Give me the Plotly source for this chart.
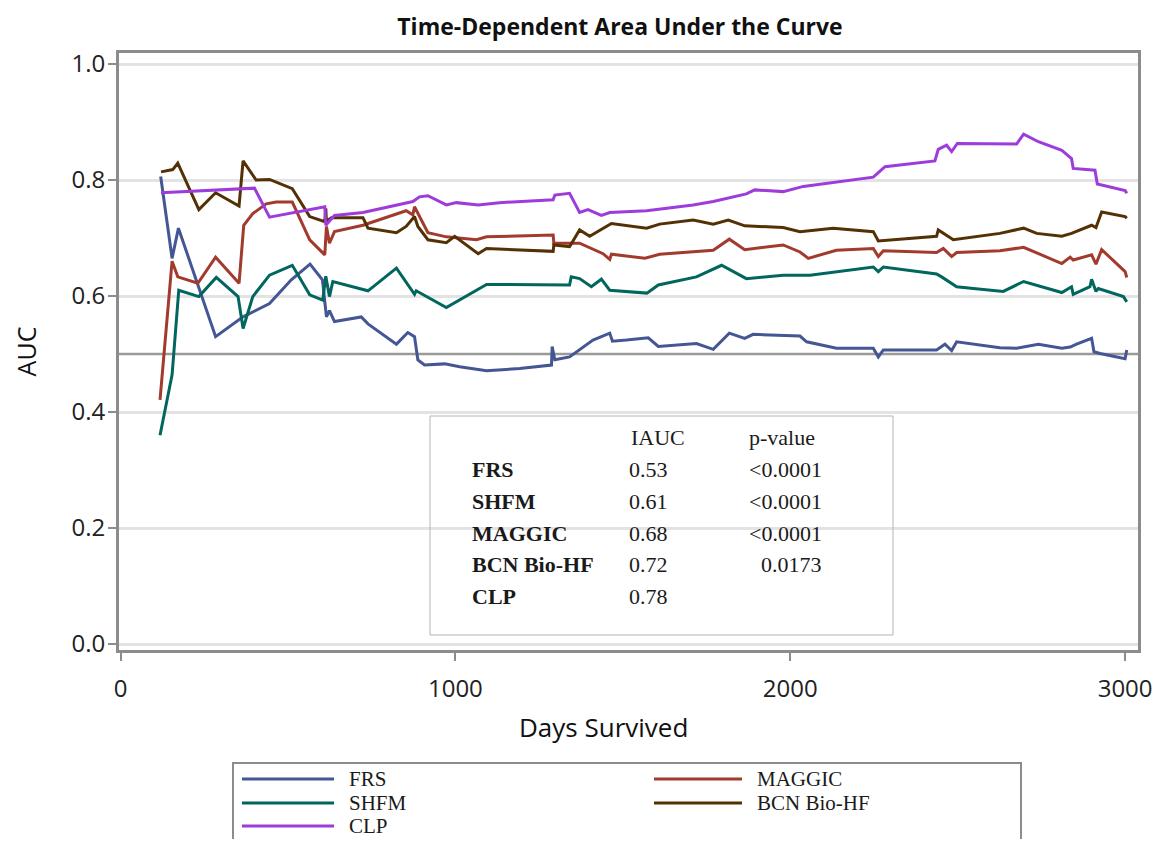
import plotly.graph_objects as go

# ---------------- data ----------------
frs_days = [120, 154, 173, 284, 366, 445, 510, 566, 603, 615, 624, 639, 719, 739, 824, 858, 878, 888,
            908, 968, 1013, 1093, 1192, 1287, 1289, 1297, 1341, 1411, 1461, 1469, 1511, 1576, 1606,
            1720, 1770, 1818, 1864, 1889, 2029, 2049, 2138, 2248, 2263, 2278, 2437, 2462, 2482, 2497,
            2626, 2676, 2741, 2811, 2836, 2855, 2900, 2907, 2925, 3000, 3005]
frs_auc = [0.806, 0.665, 0.717, 0.530, 0.564, 0.587, 0.628, 0.655, 0.628, 0.564, 0.575, 0.556, 0.564,
           0.552, 0.517, 0.537, 0.530, 0.490, 0.481, 0.483, 0.478, 0.471, 0.475, 0.481, 0.513, 0.490,
           0.495, 0.524, 0.536, 0.522, 0.524, 0.528, 0.513, 0.518, 0.508, 0.536, 0.527, 0.534, 0.531,
           0.521, 0.510, 0.510, 0.495, 0.507, 0.507, 0.517, 0.506, 0.521, 0.511, 0.510, 0.517, 0.510,
           0.512, 0.517, 0.527, 0.504, 0.501, 0.492, 0.507]

maggic_days = [118, 154, 171, 231, 284, 354, 368, 395, 435, 465, 513, 565, 610, 615, 624, 639, 724,
               853, 873, 878, 918, 973, 1063, 1093, 1292, 1294, 1371, 1441, 1461, 1466, 1566, 1610,
               1770, 1818, 1864, 1979, 2029, 2054, 2138, 2248, 2263, 2278, 2437, 2457, 2482, 2497,
               2626, 2697, 2811, 2836, 2845, 2900, 2913, 2930, 3000, 3005]
maggic_auc = [0.421, 0.660, 0.633, 0.622, 0.667, 0.622, 0.722, 0.742, 0.759, 0.762, 0.762, 0.697,
              0.671, 0.720, 0.691, 0.711, 0.722, 0.747, 0.740, 0.754, 0.709, 0.702, 0.697, 0.702,
              0.705, 0.691, 0.691, 0.673, 0.663, 0.672, 0.665, 0.672, 0.679, 0.698, 0.680, 0.688,
              0.676, 0.665, 0.679, 0.682, 0.668, 0.678, 0.675, 0.682, 0.668, 0.675, 0.678, 0.684,
              0.656, 0.667, 0.662, 0.671, 0.655, 0.680, 0.642, 0.632]

shfm_days = [118, 154, 174, 234, 286, 351, 366, 395, 445, 513, 565, 604, 613, 624, 634, 739, 824, 878,
             883, 973, 1093, 1292, 1341, 1346, 1371, 1406, 1436, 1461, 1572, 1606, 1720, 1795, 1869,
             1979, 2059, 2248, 2263, 2278, 2437, 2452, 2497, 2547, 2636, 2697, 2811, 2840, 2845,
             2895, 2900, 2913, 2920, 2995, 3005]
shfm_auc = [0.360, 0.464, 0.610, 0.599, 0.632, 0.599, 0.544, 0.599, 0.636, 0.653, 0.602, 0.593, 0.634,
            0.599, 0.625, 0.609, 0.648, 0.603, 0.609, 0.580, 0.620, 0.619, 0.619, 0.633, 0.630, 0.616,
            0.629, 0.610, 0.605, 0.619, 0.633, 0.653, 0.630, 0.636, 0.636, 0.650, 0.642, 0.650, 0.638,
            0.633, 0.616, 0.613, 0.608, 0.625, 0.606, 0.616, 0.603, 0.616, 0.629, 0.608, 0.613, 0.599,
            0.590]

bcn_days = [121, 156, 171, 234, 284, 354, 366, 405, 445, 513, 565, 610, 613, 615, 630, 724, 739, 824,
            853, 878, 888, 918, 973, 998, 1068, 1093, 1292, 1294, 1341, 1371, 1401, 1466, 1571, 1610,
            1710, 1770, 1815, 1864, 1979, 2029, 2128, 2248, 2263, 2437, 2442, 2487, 2626, 2697, 2736,
            2811, 2840, 2900, 2913, 2930, 3000, 3005]
bcn_auc = [0.814, 0.818, 0.829, 0.749, 0.778, 0.755, 0.833, 0.800, 0.801, 0.785, 0.737, 0.728, 0.751,
           0.729, 0.735, 0.735, 0.717, 0.709, 0.720, 0.737, 0.720, 0.697, 0.692, 0.703, 0.673, 0.682,
           0.677, 0.688, 0.685, 0.714, 0.703, 0.725, 0.717, 0.724, 0.731, 0.724, 0.731, 0.721, 0.718,
           0.711, 0.717, 0.711, 0.695, 0.703, 0.714, 0.697, 0.708, 0.717, 0.708, 0.703, 0.708, 0.722,
           0.718, 0.745, 0.737, 0.734]

clp_days = [121, 400, 445, 610, 613, 639, 724, 873, 893, 918, 973, 1003, 1068, 1132, 1292, 1297, 1341,
            1371, 1396, 1436, 1461, 1571, 1710, 1770, 1869, 1894, 1979, 2039, 2248, 2283, 2432, 2442,
            2467, 2482, 2499, 2676, 2697, 2741, 2811, 2840, 2845, 2910, 2917, 3000, 3005]
clp_auc = [0.778, 0.786, 0.736, 0.754, 0.722, 0.739, 0.744, 0.763, 0.771, 0.773, 0.757, 0.761, 0.757,
           0.761, 0.766, 0.774, 0.777, 0.744, 0.749, 0.739, 0.744, 0.747, 0.757, 0.763, 0.776, 0.783,
           0.780, 0.789, 0.805, 0.823, 0.833, 0.853, 0.860, 0.849, 0.863, 0.862, 0.879, 0.866, 0.851,
           0.837, 0.820, 0.817, 0.793, 0.782, 0.777]

reference_auc = 0.5
x_ticks = [0, 1000, 2000, 3000]
y_ticks = [0.0, 0.2, 0.4, 0.6, 0.8, 1.0]

table_models = ["FRS", "SHFM", "MAGGIC", "BCN Bio-HF", "CLP"]
table_iauc = ["0.53", "0.61", "0.68", "0.72", "0.78"]
table_pvalue = ["<0.0001", "<0.0001", "<0.0001", "0.0173", ""]

# ---------------- styling ----------------
colors = {"FRS": "#445694", "MAGGIC": "#A23A2E", "SHFM": "#01665E",
          "BCN Bio-HF": "#543005", "CLP": "#9D3CDB"}
SANS = "Open Sans, DejaVu Sans, sans-serif"
SERIF = "Liberation Serif, DejaVu Serif, serif"

OFF = 8                      # page body margin
FW, FH = 1148, 831           # figure size (page 1164x847 minus body margins)
PL, PR, PT, PB = 119, 1138, 53, 650   # plot area in page pixels


def px(x):
    return (x - PL) / (PR - PL)


def py(y):
    return (PB - y) / (PB - PT)


data_map = {
    "FRS": (frs_days, frs_auc),
    "MAGGIC": (maggic_days, maggic_auc),
    "SHFM": (shfm_days, shfm_auc),
    "BCN Bio-HF": (bcn_days, bcn_auc),
    "CLP": (clp_days, clp_auc),
}

fig = go.Figure()
for name in ["FRS", "MAGGIC", "SHFM", "BCN Bio-HF", "CLP"]:
    d, v = data_map[name]
    fig.add_trace(go.Scatter(x=d, y=v, mode="lines", name=name, showlegend=False,
                             line=dict(color=colors[name], width=3)))

shapes = []
annotations = []

# reference line at AUC 0.5
shapes.append(dict(type="line", xref="x domain", yref="y", x0=0, x1=1,
                   y0=reference_auc, y1=reference_auc,
                   line=dict(color="#9a9a9a", width=2.5), layer="below"))

# inset table box
shapes.append(dict(type="rect", xref="paper", yref="paper",
                   x0=px(430), x1=px(893), y0=py(635), y1=py(416),
                   line=dict(color="#b4b4b4", width=1)))

tfont = dict(family=SERIF, size=22, color="#1a1a1a")
annotations.append(dict(text="IAUC", x=px(629), y=py(437), xref="paper", yref="paper",
                        xanchor="left", yanchor="middle", showarrow=False, font=tfont))
annotations.append(dict(text="p-value", x=px(747), y=py(437), xref="paper", yref="paper",
                        xanchor="left", yanchor="middle", showarrow=False, font=tfont))
row_y = [469, 501, 533, 564, 596]
for i, m in enumerate(table_models):
    annotations.append(dict(text="<b>" + m + "</b>", x=px(470), y=py(row_y[i]), xref="paper",
                            yref="paper", xanchor="left", yanchor="middle", showarrow=False,
                            font=tfont))
    annotations.append(dict(text=table_iauc[i], x=px(627), y=py(row_y[i]), xref="paper",
                            yref="paper", xanchor="left", yanchor="middle", showarrow=False,
                            font=tfont))
    if table_pvalue[i]:
        annotations.append(dict(text=table_pvalue[i], x=px(824), y=py(row_y[i]), xref="paper",
                                yref="paper", xanchor="right", yanchor="middle", showarrow=False,
                                font=tfont))

# x-axis title (placed as in the reference)
annotations.append(dict(text="Days Survived", x=px(603), y=py(727), xref="paper", yref="paper",
                        xanchor="center", yanchor="middle", showarrow=False,
                        font=dict(family=SANS, size=26, color="#111")))

# legend (drawn below the plot)
shapes.append(dict(type="rect", xref="paper", yref="paper",
                   x0=px(233), x1=px(1021), y0=py(880), y1=py(763),
                   line=dict(color="#8c8c8c", width=2)))
legend_layout = [("FRS", 0, 0), ("SHFM", 0, 1), ("CLP", 0, 2),
                 ("MAGGIC", 1, 0), ("BCN Bio-HF", 1, 1)]
col_line = [(242, 334), (654, 742)]
col_text = [347, 755]
leg_rows = [779, 803, 826]
lfont = dict(family=SERIF, size=21, color="#1a1a1a")
for name, c, r in legend_layout:
    yy = py(leg_rows[r])
    shapes.append(dict(type="line", xref="paper", yref="paper",
                       x0=px(col_line[c][0]), x1=px(col_line[c][1]), y0=yy, y1=yy,
                       line=dict(color=colors[name], width=3)))
    annotations.append(dict(text=name, x=px(col_text[c]), y=yy, xref="paper", yref="paper",
                            xanchor="left", yanchor="middle", showarrow=False, font=lfont))

fig.update_layout(
    width=FW, height=FH,
    margin=dict(l=PL - OFF, r=FW - (PR - OFF), t=PT - OFF, b=FH - (PB - OFF), pad=0),
    paper_bgcolor="white", plot_bgcolor="white",
    title=dict(text="<b>Time-Dependent Area Under the Curve</b>", x=(620 - OFF) / FW,
               y=1 - (27 - OFF) / FH,
               xref="container", yref="container", xanchor="center", yanchor="middle",
               font=dict(family=SANS, size=23, color="#111")),
    xaxis=dict(range=[-4.5, 3038.5], tickvals=x_ticks, ticks="outside", ticklen=8, tickwidth=2,
               tickcolor="#8c8c8c", showline=True, linecolor="#8c8c8c", linewidth=3, mirror=True,
               showgrid=False, zeroline=False, ticklabelstandoff=7, automargin=False,
               tickfont=dict(family=SANS, size=24, color="#222")),
    yaxis=dict(range=[-0.0103, 1.019], tickvals=y_ticks, tickformat=".1f", ticks="outside",
               ticklen=8, tickwidth=2, tickcolor="#8c8c8c", showline=True, linecolor="#8c8c8c",
               linewidth=3, mirror=True, showgrid=True, gridcolor="#e3e3e3", gridwidth=3,
               zeroline=False, ticklabelstandoff=-2, automargin=False,
               tickfont=dict(family=SANS, size=24, color="#222"),
               title=dict(text="AUC", standoff=28,
                          font=dict(family=SANS, size=25, color="#111"))),
    shapes=shapes,
    annotations=annotations,
)

fig.write_html("out.html")
